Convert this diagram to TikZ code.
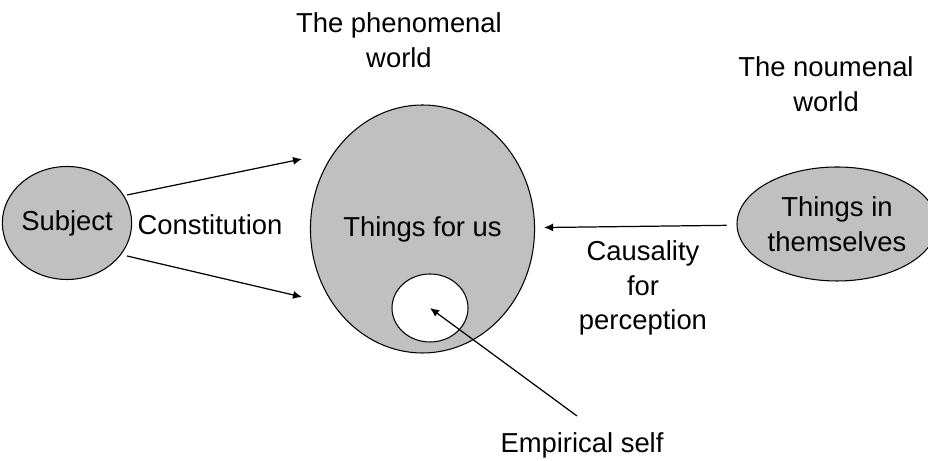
\documentclass[tikz,border=0pt]{standalone}
\usepackage{fontspec}
\setmainfont{Liberation Sans}
\usetikzlibrary{arrows.meta, shapes.geometric}

\definecolor{silver}{RGB}{192,192,192}

\begin{document}
\begin{tikzpicture}[
  font=\fontsize{15.6}{19.6}\selectfont,
  blob/.style={ellipse, draw, line width=0.6pt, fill=silver, inner sep=0pt, align=center},
  lbl/.style={align=center},
  arr/.style={-{Latex[length=1.8mm,width=1.6mm]}, line width=0.7pt}
]
  \useasboundingbox (0,0) rectangle (18.56,9.22);
  \clip (0,0) rectangle (18.56,9.22);

  % circles and ellipses
  \node[blob, minimum width=2.24cm, minimum height=2.26cm] (subj) at (1.34,4.76) {Subject};
  \node[blob, minimum width=4.42cm, minimum height=4.96cm] (forus) at (8.45,4.64) {Things for us};
  \node[ellipse, draw, fill=white, line width=0.6pt, minimum width=1.52cm, minimum height=1.36cm] (self) at (8.6,3.06) {};
  \node[blob, minimum width=4.0cm, minimum height=2.28cm] (inthem) at (16.74,4.74) {Things in\\themselves};

  % labels
  \node[lbl] (phen) at (7.98,8.42) {The phenomenal\\world};
  \node[lbl] (noum) at (16.52,7.54) {The noumenal\\world};
  \node[lbl] (const) at (4.2,4.72) {Constitution};
  \node[lbl] (caus) at (12.86,3.46) {Causality\\for\\perception};
  \node[lbl, anchor=base] (emp) at (11.64,0.16) {Empirical self};

  % arrow ends
  \coordinate (s1) at (2.54,5.32);
  \coordinate (t1) at (6.04,6.04);
  \coordinate (s2) at (2.54,4.10);
  \coordinate (t2) at (6.04,3.28);
  \coordinate (e1) at (11.54,0.90);

  \draw[arr] (s1) -- (t1);
  \draw[arr] (s2) -- (t2);
  \draw[arr, shorten <=0.2cm, shorten >=0.18cm] (inthem) -- (forus);
  \draw[arr] (e1) -- (self.center);
\end{tikzpicture}
\end{document}
